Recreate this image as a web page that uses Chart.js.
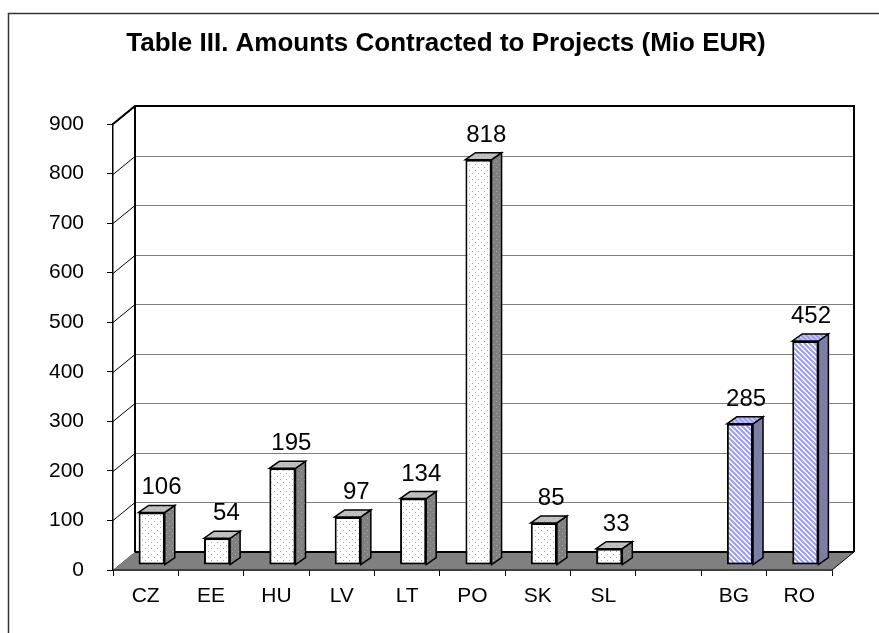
<!DOCTYPE html>
<html>
<head>
<meta charset="utf-8">
<script src="https://cdn.jsdelivr.net/npm/chart.js@4.4.0/dist/chart.umd.min.js"></script>
<style>
html, body { margin: 0; padding: 0; background: #fff; overflow: hidden; }
canvas { display: block; }
</style>
</head>
<body>
<canvas id="grafico" width="879" height="633"></canvas>
<script>
// Datos
var titulo = 'Table III. Amounts Contracted to Projects (Mio EUR)';
var paises = ['CZ', 'EE', 'HU', 'LV', 'LT', 'PO', 'SK', 'SL', '', 'BG', 'RO'];
var importes = [106, 54, 195, 97, 134, 818, 85, 33, null, 285, 452];
var candidatos = ['BG', 'RO'];
var marcasY = [0, 100, 200, 300, 400, 500, 600, 700, 800, 900];

// profundidad de las paredes y de las barras (efecto 3D)
var PARED_X = 22, PARED_Y = 18;
var BARRA_X = 10, BARRA_Y = 7;
var DESP_X = 6, DESP_Y = -5;

function tramaPuntos(fondo, punto) {
    var c = document.createElement('canvas');
    c.width = 6; c.height = 6;
    var g = c.getContext('2d');
    g.fillStyle = fondo; g.fillRect(0, 0, 6, 6);
    g.fillStyle = punto;
    g.fillRect(1, 1, 1, 1); g.fillRect(4, 4, 1, 1);
    return g.createPattern(c, 'repeat');
}
function tramaRayas(fondo, raya) {
    var n = 5;
    var c = document.createElement('canvas');
    c.width = n; c.height = n;
    var g = c.getContext('2d');
    g.fillStyle = fondo; g.fillRect(0, 0, n, n);
    g.strokeStyle = raya; g.lineWidth = 2;
    g.beginPath();
    g.moveTo(-1, -1); g.lineTo(n + 1, n + 1);
    g.moveTo(-1, n - 1); g.lineTo(1, n + 1);
    g.moveTo(n - 1, -1); g.lineTo(n + 1, 1);
    g.stroke();
    return g.createPattern(c, 'repeat');
}

var puntosFrente = tramaPuntos('#ffffff', '#9a9aff');
var puntosLado = tramaPuntos('#808080', '#a4a4d8');
var puntosArriba = tramaPuntos('#c0c0c0', '#a0a0e8');
var rayasFrente = tramaRayas('#ffffff', '#9999ff');
var rayasLado = tramaRayas('#808080', '#7c7cc0');
var rayasArriba = tramaRayas('#d0d0ee', '#9999ff');

function esCandidato(i) {
    return candidatos.indexOf(paises[i]) >= 0;
}

var efecto3d = {
    id: 'efecto3d',
    beforeDraw: function (chart) {
        var ctx = chart.ctx;
        ctx.save();
        ctx.strokeStyle = '#333';
        ctx.lineWidth = 1.5;
        ctx.beginPath();
        ctx.moveTo(8.5, 640); ctx.lineTo(8.5, 13.5); ctx.lineTo(890, 13.5);
        ctx.stroke();
        // titulo
        ctx.fillStyle = '#000';
        ctx.font = 'bold 26px "Liberation Sans", Arial, sans-serif';
        ctx.textAlign = 'center';
        ctx.textBaseline = 'alphabetic';
        ctx.fillText(titulo, 446, 51);
        ctx.restore();
    },
    beforeDatasetsDraw: function (chart) {
        var ctx = chart.ctx, a = chart.chartArea, ey = chart.scales.y;
        var izq = a.left, der = a.right, arr = a.top, aba = a.bottom;
        ctx.save();
        // lineas de la pared del fondo
        marcasY.forEach(function (v) {
            var py = Math.round(ey.getPixelForValue(v)) + 0.5;
            ctx.strokeStyle = '#000'; ctx.lineWidth = 1;
            ctx.beginPath();
            ctx.moveTo(izq, py); ctx.lineTo(izq + PARED_X, py - PARED_Y);
            ctx.stroke();
            if (v > 0 && v < 900) {
                ctx.strokeStyle = '#808080';
                ctx.beginPath();
                ctx.moveTo(izq + PARED_X, py - PARED_Y); ctx.lineTo(der + PARED_X, py - PARED_Y);
                ctx.stroke();
            }
        });
        // suelo
        ctx.fillStyle = '#808080';
        ctx.beginPath();
        ctx.moveTo(izq, aba); ctx.lineTo(der, aba);
        ctx.lineTo(der + PARED_X, aba - PARED_Y); ctx.lineTo(izq + PARED_X, aba - PARED_Y);
        ctx.closePath(); ctx.fill();
        ctx.strokeStyle = '#000'; ctx.lineWidth = 2;
        ctx.beginPath();
        ctx.moveTo(izq + PARED_X, aba - PARED_Y); ctx.lineTo(der + PARED_X, aba - PARED_Y);
        ctx.stroke();
        ctx.lineWidth = 1;
        ctx.beginPath();
        ctx.moveTo(der, aba); ctx.lineTo(der + PARED_X, aba - PARED_Y);
        ctx.moveTo(izq, aba); ctx.lineTo(der, aba);
        ctx.stroke();
        // bordes de las paredes
        ctx.lineWidth = 2;
        ctx.beginPath();
        ctx.moveTo(izq, arr); ctx.lineTo(izq + PARED_X, arr - PARED_Y);
        ctx.lineTo(der + PARED_X, arr - PARED_Y); ctx.lineTo(der + PARED_X, aba - PARED_Y);
        ctx.moveTo(izq + PARED_X, arr - PARED_Y); ctx.lineTo(izq + PARED_X, aba - PARED_Y);
        ctx.stroke();
        ctx.restore();
        // las barras van un poco hacia el fondo
        ctx.save();
        ctx.translate(DESP_X, DESP_Y);
    },
    afterDatasetsDraw: function (chart) {
        var ctx = chart.ctx, a = chart.chartArea;
        var barras = chart.getDatasetMeta(0).data;
        ctx.lineWidth = 1.5;
        ctx.strokeStyle = '#000';
        barras.forEach(function (b, i) {
            if (importes[i] === null) return;
            var p = b.getProps(['x', 'y', 'base', 'width'], true);
            var l = p.x - p.width / 2, r = p.x + p.width / 2;
            var t = p.y, bo = p.base;
            // cara lateral
            ctx.fillStyle = esCandidato(i) ? rayasLado : puntosLado;
            ctx.beginPath();
            ctx.moveTo(r, t); ctx.lineTo(r + BARRA_X, t - BARRA_Y);
            ctx.lineTo(r + BARRA_X, bo - BARRA_Y); ctx.lineTo(r, bo);
            ctx.closePath(); ctx.fill(); ctx.stroke();
            // cara de arriba
            ctx.fillStyle = esCandidato(i) ? rayasArriba : puntosArriba;
            ctx.beginPath();
            ctx.moveTo(l, t); ctx.lineTo(l + BARRA_X, t - BARRA_Y);
            ctx.lineTo(r + BARRA_X, t - BARRA_Y); ctx.lineTo(r, t);
            ctx.closePath(); ctx.fill(); ctx.stroke();
            // etiqueta del valor
            var corr = 10 - 4.5 * (p.x - a.left) / (a.right - a.left);
            ctx.fillStyle = '#000';
            ctx.font = '24px "Liberation Sans", Arial, sans-serif';
            ctx.textAlign = 'center';
            ctx.textBaseline = 'alphabetic';
            ctx.fillText(String(importes[i]), p.x + corr, t - 18);
        });
        ctx.restore();
    }
};

Chart.defaults.font.family = '"Liberation Sans", Arial, sans-serif';
Chart.defaults.color = '#000';

var ctx = document.getElementById('grafico');
var grafico = new Chart(ctx, {
    type: 'bar',
    data: {
        labels: paises,
        datasets: [{
            data: importes,
            backgroundColor: function (c) { return esCandidato(c.dataIndex) ? rayasFrente : puntosFrente; },
            borderColor: '#000',
            borderWidth: 2,
            borderSkipped: false,
            barPercentage: 0.4,
            categoryPercentage: 1,
            clip: false
        }]
    },
    plugins: [efecto3d],
    options: {
        responsive: false,
        animation: false,
        events: [],
        layout: { padding: { left: 13, right: 47, top: 124, bottom: 0 } },
        plugins: {
            legend: { display: false },
            tooltip: { enabled: false },
            title: { display: false }
        },
        scales: {
            x: {
                grid: { offset: true, drawOnChartArea: false, drawTicks: true, tickLength: 6, color: '#000' },
                border: { display: true, color: '#000', width: 1.5 },
                ticks: { font: { size: 21 }, padding: 8, color: '#000', maxRotation: 0, autoSkip: false },
                afterFit: function (s) { s.height = 63; }
            },
            y: {
                min: 0, max: 900,
                grid: { drawOnChartArea: false, drawTicks: true, tickLength: 6, color: '#000' },
                border: { display: true, color: '#000', width: 1.5 },
                ticks: { stepSize: 100, font: { size: 21 }, padding: 23, color: '#000' },
                afterFit: function (s) { s.width = 100; }
            }
        }
    }
});
</script>
</body>
</html>
